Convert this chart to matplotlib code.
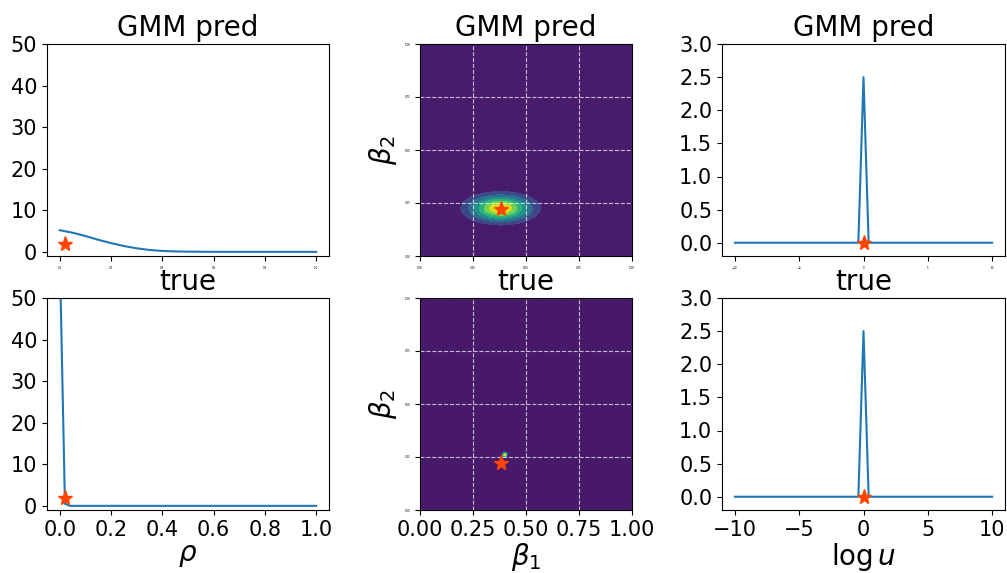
import numpy as np
import matplotlib
matplotlib.use("Agg")
import matplotlib.pyplot as plt

# rho posterior (left column)
rho_pred_x = [0.0, 0.05, 0.1, 0.15, 0.2, 0.25, 0.3, 0.35, 0.4, 0.45, 0.5,
              0.55, 0.6, 0.65, 0.7, 0.75, 0.8, 0.85, 0.9, 0.95, 1.0]
rho_pred_y = [5.2, 4.6, 3.8, 2.9, 2.1, 1.4, 0.85, 0.45, 0.22, 0.1, 0.05,
              0.02, 0.01, 0.0, 0.0, 0.0, 0.0, 0.0, 0.0, 0.0, 0.0]
rho_true_x = np.linspace(0, 1, 51)
rho_true_y = [60.0, 0.5] + [0.0] * 49
rho_star = (0.02, 2.0)

# beta posterior (middle column): gaussian blobs
beta_pred_center = (0.38, 0.225)
beta_pred_sigma = (0.095, 0.04)
beta_true_center = (0.40, 0.26)
beta_true_sigma = (0.007, 0.007)
beta_star_pred = (0.38, 0.22)
beta_star_true = (0.383, 0.22)

# log u posterior (right column)
logu_x = np.linspace(-10, 10, 51)
logu_pred_y = [0.0] * 25 + [2.5] + [0.0] * 25
logu_true_y = [0.0] * 25 + [2.5] + [0.0] * 25
logu_star = (0.0, 0.0)

star_color = "#ff4500"
W, H = 1007, 573
fig = plt.figure(figsize=(W / 100, H / 100), dpi=100)

def box(l, t, w, h):
    return [l / W, 1 - (t + h) / H, w / W, h / H]

rows_top = [44, 298]
ax_h = 212
tsize = 15

for r in range(2):
    t = rows_top[r]
    title = "GMM pred" if r == 0 else "true"

    # left
    ax = fig.add_axes(box(47, t, 282, ax_h))
    if r == 0:
        ax.plot(rho_pred_x, rho_pred_y, color="C0", lw=1.5)
    else:
        ax.plot(rho_true_x, rho_true_y, color="C0", lw=1.5)
        ax.set_xlabel(r"$\rho$", fontsize=20, labelpad=1)
    ax.plot(*rho_star, marker="*", color=star_color, ms=11)
    ax.set_ylim(-1, 50)
    ax.set_xticks([0, 0.2, 0.4, 0.6, 0.8, 1.0])
    ax.set_yticks([0, 10, 20, 30, 40, 50])
    ax.tick_params(labelsize=tsize)
    if r == 0:
        ax.tick_params(axis="x", labelsize=2)
    ax.set_title(title, fontsize=20)

    # middle
    ax = fig.add_axes(box(420, t, 212, ax_h))
    g = np.linspace(0, 1, 200)
    X, Y = np.meshgrid(g, g)
    c, s = (beta_pred_center, beta_pred_sigma) if r == 0 else (beta_true_center, beta_true_sigma)
    Z = np.exp(-0.5 * (((X - c[0]) / s[0]) ** 2 + ((Y - c[1]) / s[1]) ** 2)) / (2 * np.pi * s[0] * s[1])
    ax.contourf(X, Y, Z, cmap="viridis")
    st = beta_star_pred if r == 0 else beta_star_true
    ax.plot(*st, marker="*", color=star_color, ms=11)
    ax.set_xlim(0, 1)
    ax.set_ylim(0, 1)
    ticks = [0, 0.25, 0.5, 0.75, 1.0]
    ax.set_xticks(ticks)
    ax.set_yticks(ticks)
    ax.set_xticklabels(["0.00", "0.25", "0.50", "0.75", "1.00"])
    ax.grid(True, color="white", ls="--", lw=0.8, alpha=0.7)
    ax.tick_params(axis="y", labelsize=2)
    if r == 0:
        ax.tick_params(axis="x", labelsize=2)
    else:
        ax.tick_params(axis="x", labelsize=tsize)
        ax.set_xlabel(r"$\beta_1$", fontsize=20, labelpad=1)
    ax.set_ylabel(r"$\beta_2$", fontsize=20)
    ax.set_title(title, fontsize=20)

    # right
    ax = fig.add_axes(box(722, t, 283, ax_h))
    yv = logu_pred_y if r == 0 else logu_true_y
    ax.plot(logu_x, yv, color="C0", lw=1.5)
    ax.plot(*logu_star, marker="*", color=star_color, ms=11)
    ax.set_ylim(-0.2, 3.0)
    ax.set_xticks([-10, -5, 0, 5, 10])
    ax.set_yticks([0.0, 0.5, 1.0, 1.5, 2.0, 2.5, 3.0])
    ax.tick_params(labelsize=tsize)
    if r == 0:
        ax.tick_params(axis="x", labelsize=2)
    else:
        ax.set_xlabel(r"$\log u$", fontsize=20, labelpad=1)
    ax.set_title(title, fontsize=20)

fig.savefig("out.png", dpi=100)
